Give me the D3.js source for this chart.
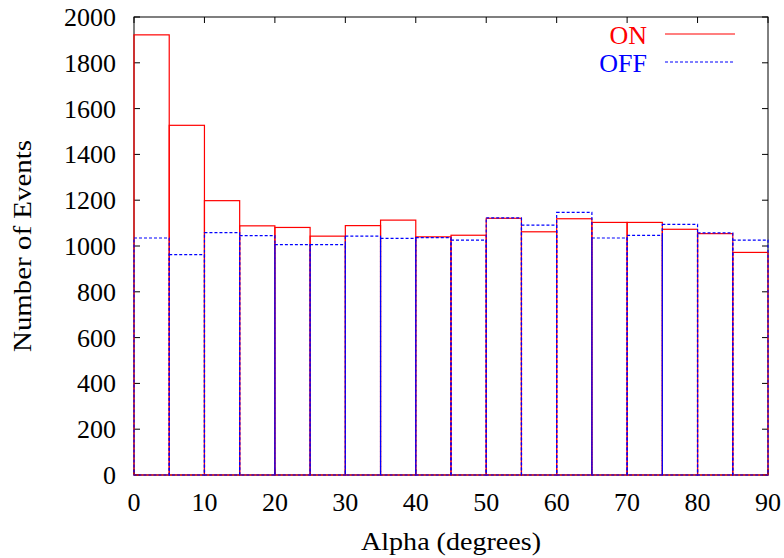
<!DOCTYPE html>
<html>
<head>
<meta charset="utf-8">
<script src="https://cdn.jsdelivr.net/npm/d3@7"></script>
<style>
  html, body { margin: 0; padding: 0; background: #fff; }
  svg text { font-family: "Liberation Serif", "Times New Roman", serif; }
</style>
</head>
<body>
<svg id="chart" width="784" height="558"></svg>
<script>
// Histogram of event counts versus alpha (5-degree bins)
const binStarts = [0, 5, 10, 15, 20, 25, 30, 35, 40, 45, 50, 55, 60, 65, 70, 75, 80, 85];
const binWidth = 5;
const onCounts  = [1922, 1527, 1198, 1088, 1081, 1043, 1089, 1113, 1040, 1047, 1121, 1062, 1119, 1103, 1103, 1073, 1054, 972];
const offCounts = [1035, 962, 1058, 1045, 1006, 1006, 1043, 1033, 1037, 1026, 1123, 1091, 1147, 1035, 1046, 1094, 1057, 1026];
const xTicks = [0, 10, 20, 30, 40, 50, 60, 70, 80, 90];
const yTicks = [0, 200, 400, 600, 800, 1000, 1200, 1400, 1600, 1800, 2000];
const seriesNames = ["ON", "OFF"];
const seriesColors = ["#ff0000", "#0000ff"];

const svg = d3.select("#chart");
const plotLeft = 134, plotRight = 768, plotTop = 17, plotBottom = 475;
const fontSize = 26;

const x = d3.scaleLinear().domain([0, 90]).range([plotLeft, plotRight]);
const y = d3.scaleLinear().domain([0, 2000]).range([plotBottom, plotTop]);

// Border frame
svg.append("rect")
  .attr("x", plotLeft).attr("y", plotTop)
  .attr("width", plotRight - plotLeft).attr("height", plotBottom - plotTop)
  .attr("fill", "none").attr("stroke", "#000").attr("stroke-width", 1);

// Tick marks on all four sides, pointing inward
const tickLen = 6;
const ticks = svg.append("g").attr("stroke", "#000").attr("stroke-width", 1);
xTicks.forEach(t => {
  ticks.append("line").attr("x1", x(t)).attr("x2", x(t)).attr("y1", plotBottom).attr("y2", plotBottom - tickLen);
  ticks.append("line").attr("x1", x(t)).attr("x2", x(t)).attr("y1", plotTop).attr("y2", plotTop + tickLen);
});
yTicks.forEach(t => {
  ticks.append("line").attr("x1", plotLeft).attr("x2", plotLeft + tickLen).attr("y1", y(t)).attr("y2", y(t));
  ticks.append("line").attr("x1", plotRight).attr("x2", plotRight - tickLen).attr("y1", y(t)).attr("y2", y(t));
});

// Tick labels
svg.append("g").selectAll("text").data(xTicks).join("text")
  .attr("x", d => x(d)).attr("y", 511)
  .attr("text-anchor", "middle").attr("font-size", fontSize)
  .text(d => d);
svg.append("g").selectAll("text").data(yTicks).join("text")
  .attr("x", 116).attr("y", d => y(d) + 9)
  .attr("text-anchor", "end").attr("font-size", fontSize)
  .text(d => d);

// Axis titles
svg.append("text")
  .attr("x", (plotLeft + plotRight) / 2).attr("y", 550)
  .attr("text-anchor", "middle").attr("font-size", fontSize)
  .attr("textLength", 180).attr("lengthAdjust", "spacingAndGlyphs")
  .text("Alpha (degrees)");
svg.append("text")
  .attr("transform", `translate(31,${(plotTop + plotBottom) / 2}) rotate(-90)`)
  .attr("text-anchor", "middle").attr("font-size", fontSize)
  .attr("textLength", 212).attr("lengthAdjust", "spacingAndGlyphs")
  .text("Number of Events");

// Boxes: ON solid, OFF dashed on top
const series = [onCounts, offCounts];
series.forEach((vals, i) => {
  svg.append("g").selectAll("rect").data(binStarts).join("rect")
    .attr("x", d => x(d))
    .attr("width", x(binWidth) - x(0))
    .attr("y", (d, j) => y(vals[j]))
    .attr("height", (d, j) => y(0) - y(vals[j]))
    .attr("fill", "none")
    .attr("stroke", seriesColors[i])
    .attr("stroke-width", 1.2)
    .attr("stroke-dasharray", i === 1 ? "3,2" : null);
});

// Legend
const legend = svg.append("g");
seriesNames.forEach((name, i) => {
  const ly = 34 + i * 28;
  legend.append("text")
    .attr("x", 647).attr("y", ly + 10)
    .attr("text-anchor", "end").attr("font-size", fontSize)
    .attr("fill", seriesColors[i])
    .text(name);
  legend.append("line")
    .attr("x1", 665).attr("x2", 735).attr("y1", ly).attr("y2", ly)
    .attr("stroke", seriesColors[i]).attr("stroke-width", 1.2)
    .attr("stroke-dasharray", i === 1 ? "3,2" : null);
});
</script>
</body>
</html>
